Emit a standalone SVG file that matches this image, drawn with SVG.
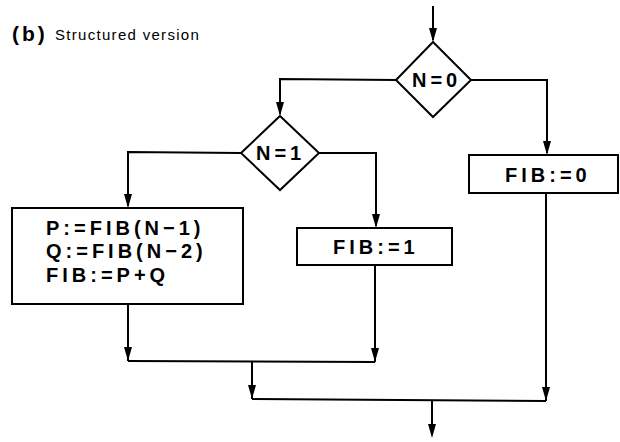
<svg xmlns="http://www.w3.org/2000/svg" width="620" height="442" viewBox="0 0 620 442">
<style>
.ln{fill:none;stroke:#000;stroke-width:2}
.sh{fill:#fff;stroke:#000;stroke-width:2}
.ah{fill:#000;stroke:none}
.t{font-family:"Liberation Sans",Arial,sans-serif;font-weight:bold;font-size:20px;letter-spacing:4px;fill:#000}
</style>
<rect width="620" height="442" fill="#fff"/>
<g id="title">
<text x="12" y="41" font-family="Liberation Sans,Arial,sans-serif" font-weight="bold" font-size="21" letter-spacing="3">(b)</text>
<text x="55" y="40" font-family="Liberation Sans,Arial,sans-serif" font-size="15" letter-spacing="1.3">Structured version</text>
</g>
<g id="connectors">
<line class="ln" x1="433" y1="6" x2="433" y2="40"/>
<polygon class="ah" points="429,28 437,28 433,42"/>
<polyline class="ln" points="396,80 280,79 280,114"/>
<polygon class="ah" points="276,102 284,102 280,116"/>
<polyline class="ln" points="471,80 547,80 547,153"/>
<polygon class="ah" points="543,141 551,141 547,155"/>
<polyline class="ln" points="241,153 128,152 128,206"/>
<polygon class="ah" points="124,194 132,194 128,208"/>
<polyline class="ln" points="319,153 376,153 376,226"/>
<polygon class="ah" points="372,214 380,214 376,228"/>
<line class="ln" x1="128" y1="304" x2="128" y2="361"/>
<polygon class="ah" points="124,347 132,347 128,361"/>
<line class="ln" x1="375" y1="265" x2="375" y2="362"/>
<polygon class="ah" points="371,348 379,348 375,362"/>
<line class="ln" x1="128" y1="361" x2="375" y2="362"/>
<line class="ln" x1="252" y1="361" x2="252" y2="399"/>
<polygon class="ah" points="248,385 256,385 252,399"/>
<line class="ln" x1="546" y1="193" x2="546" y2="401"/>
<polygon class="ah" points="542,387 550,387 546,401"/>
<line class="ln" x1="252" y1="399" x2="546" y2="401"/>
<line class="ln" x1="432" y1="400" x2="432" y2="435"/>
<polygon class="ah" points="428,424 436,424 432,438"/>
</g>
<g id="n0">
<polygon class="sh" points="433,42 471,80 433,117 396,80"/>
<text class="t" x="412" y="87" letter-spacing="1">N=0</text>
</g>
<g id="n1">
<polygon class="sh" points="280,116 319,153 280,190 241,153"/>
<text class="t" x="256" y="160" letter-spacing="2">N=1</text>
</g>
<g id="recurse">
<rect class="sh" x="12" y="208" width="231" height="96"/>
<text class="t" x="46" y="235">P:=FIB(N−1)</text>
<text class="t" x="46" y="258">Q:=FIB(N−2)</text>
<text class="t" x="46" y="282">FIB:=P+Q</text>
</g>
<g id="fib1">
<rect class="sh" x="297" y="228" width="155" height="37"/>
<text class="t" x="333" y="254">FIB:=1</text>
</g>
<g id="fib0">
<rect class="sh" x="469" y="155" width="149" height="38"/>
<text class="t" x="505" y="182">FIB:=0</text>
</g>
</svg>
